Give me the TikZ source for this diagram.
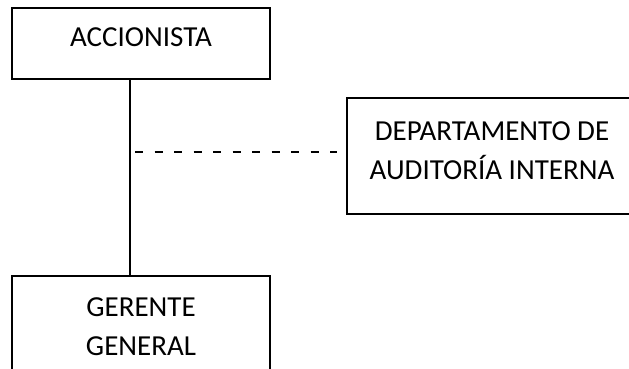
\documentclass[tikz,border=0pt]{standalone}
\usepackage{fontspec}
\setmainfont{Carlito}
\usetikzlibrary{calc}
\begin{document}
\begin{tikzpicture}[x=1pt,y=-1pt,
  orgbox/.style={draw=black, line width=2.4pt, rectangle, inner sep=0pt, fill=white},
  boxtext/.style={align=center, inner sep=0pt, font=\fontsize{29}{39}\selectfont},
  trunkline/.style={draw=black, line width=2.2pt},
  staffline/.style={draw=black, line width=2.8pt, dash pattern=on 8pt off 11.5pt}]
  \clip (0,0) rectangle (629,368);
  \fill[white] (0,0) rectangle (629,368);

  % trunk position and staff junction
  \coordinate (trunk) at (130,0);
  \coordinate (junction) at (130,152);

  % boxes
  \node[orgbox, minimum width=258pt, minimum height=71pt] (acc) at (141,43.5) {};
  \node[boxtext] (acctext) at (141,37.5) {ACCIONISTA};

  \node[orgbox, minimum width=290pt, minimum height=116pt] (dep) at (492,156) {};
  \node[boxtext] (deptext) at (492,151) {DEPARTAMENTO DE\\AUDITORÍA INTERNA};

  \node[orgbox, minimum width=258pt, minimum height=120pt] (gg) at (141,336) {};
  \node[boxtext] (ggtext) at (141,327) {GERENTE\\GENERAL};

  % connectors
  \draw[trunkline] (acc.south -| trunk) -- (gg.north -| trunk);
  \draw[staffline] ([xshift=5pt]junction) -- ([xshift=-9pt]dep.west |- junction);
\end{tikzpicture}
\end{document}
